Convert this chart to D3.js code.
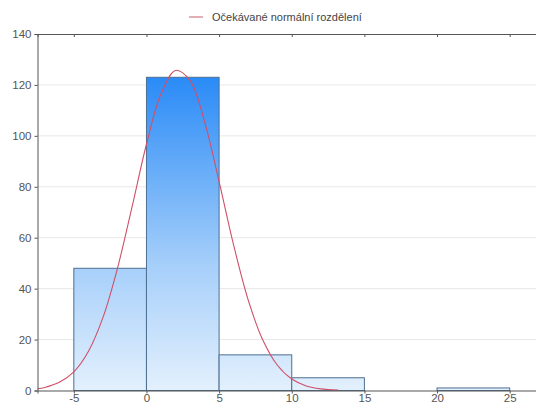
<!DOCTYPE html>
<html><head><meta charset="utf-8">
<script src="https://cdn.jsdelivr.net/npm/d3@7"></script>
<style>body{margin:0;background:#fff;}svg{display:block;}</style>
</head><body>
<svg id="c" width="536" height="405"></svg>
<script>
const binStarts = [-5, 0, 5, 10, 15, 20];
const binWidth = 5;
const counts = [48, 123, 14, 5, 0, 1];
const curveX = [-7.5,-7,-6,-5,-4,-3,-2,-1,0,1,2,3,4,5,6,7,8,9,10,11,12,13.2];
const curveY = [0.7,1.2,3.2,7.3,15.3,28.6,47.9,71.9,96.7,116.4,125.7,121.7,105.5,82,57.1,35.6,19.9,10,4.5,1.8,0.65,0.15];
const xTicks = [-5, 0, 5, 10, 15, 20, 25];
const yTicks = [0, 20, 40, 60, 80, 100, 120, 140];
const legendLabel = "Očekávané normální rozdělení";

const svg = d3.select("#c");
const L = 37.5, R = 546, T = 34, B = 390.5;
const x = d3.scaleLinear().domain([-7.5, 27.5]).range([L, R]);
const y = d3.scaleLinear().domain([0, 140]).range([B, T]);
const font = "Liberation Sans, Arial, sans-serif";

const defs = svg.append("defs");
const g = defs.append("linearGradient").attr("id","bg").attr("gradientUnits","userSpaceOnUse")
  .attr("x1",0).attr("x2",0).attr("y1",y(0)).attr("y2",y(123));
g.append("stop").attr("offset","0%").attr("stop-color","#e3f0fd");
g.append("stop").attr("offset","40%").attr("stop-color","#a6cffa");
g.append("stop").attr("offset","100%").attr("stop-color","#2a8bf7");

// grid
svg.append("g").selectAll("line").data(yTicks.filter(d=>d>0 && d<140)).join("line")
  .attr("x1",L).attr("x2",536).attr("y1",d=>y(d)).attr("y2",d=>y(d))
  .attr("stroke","#e8e8e8").attr("stroke-width",1);

// bars
svg.append("g").selectAll("rect").data(binStarts.map((s,i)=>({s,c:counts[i]})).filter(d=>d.c>0)).join("rect")
  .attr("x",d=>x(d.s)).attr("width",d=>x(d.s+binWidth)-x(d.s))
  .attr("y",d=>y(d.c)).attr("height",d=>y(0)-y(d.c))
  .attr("fill","url(#bg)").attr("stroke","#4d6f92").attr("stroke-width",1);

// curve
const line = d3.line().x(d=>x(d[0])).y(d=>y(d[1])).curve(d3.curveCatmullRom);
svg.append("path").datum(curveX.map((v,i)=>[v,curveY[i]]))
  .attr("d",line).attr("fill","none").attr("stroke","#cf5068").attr("stroke-width",1.1);

// axes
const ax = svg.append("g").attr("transform",`translate(0,${B})`)
  .call(d3.axisBottom(x).tickValues(xTicks).tickSize(3).tickFormat(d=>String(d)));
ax.select(".domain").attr("stroke","#555");
ax.selectAll(".tick line").attr("stroke","#555");
ax.selectAll("text").attr("font-family",font).attr("font-size",11.5).attr("fill","#555").attr("y",3.5);

const ay = svg.append("g").attr("transform",`translate(${L},0)`)
  .call(d3.axisLeft(y).tickValues(yTicks).tickSize(3));
ay.select(".domain").attr("stroke","#555");
ay.selectAll(".tick line").attr("stroke","#555");
ay.selectAll("text").attr("font-family",font).attr("font-size",11.5).attr("fill","#555").attr("x",-6);

// top border with ticks
const at = svg.append("g").attr("transform",`translate(0,${T})`)
  .call(d3.axisBottom(x).tickValues(xTicks).tickSize(3).tickFormat(""));
at.select(".domain").attr("stroke","#555");
at.selectAll(".tick line").attr("stroke","#555");

// legend
svg.append("line").attr("x1",189).attr("x2",203).attr("y1",17).attr("y2",17).attr("stroke","#d9959f").attr("stroke-width",1.5);
svg.append("text").attr("x",212).attr("y",21).text(legendLabel)
  .attr("font-family",font).attr("font-size",11).attr("fill","#444");
</script>
</body></html>
